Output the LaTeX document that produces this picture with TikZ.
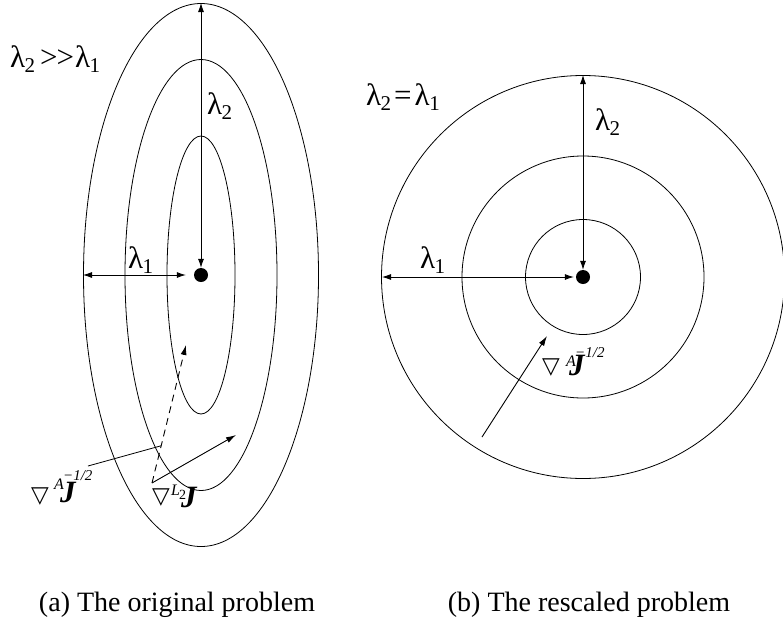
\documentclass[tikz,border=0pt]{standalone}
\usepackage{fontspec}
\setmainfont{Liberation Serif}
\newfontfamily\symf{DejaVu Sans}
\usetikzlibrary{arrows.meta}
\newcommand\fsz[1]{\fontsize{#1}{#1}\selectfont}
\newcommand\lam[1]{λ\kern-0.5pt\raisebox{-5pt}{\fsz{21}#1}}
\newcommand\tri{{\symf\fsz{23}▽}}
\newcommand\bJ{{\fsz{31}\textbf{\textit{J}}}}
\begin{document}
\begin{tikzpicture}[x=1pt,y=-1pt,
  contour/.style={line width=0.8pt},
  dblarrow/.style={line width=0.8pt,{Latex[length=9pt,width=6pt]}-{Latex[length=9pt,width=6pt]}},
  onearrow/.style={line width=0.9pt,-{Latex[length=10pt,width=6pt]}},
  lbl/.style={inner sep=0pt,anchor=base west,font=\fsz{31}},
  captext/.style={inner sep=0pt,anchor=base,font=\fsz{28}},
  dotnode/.style={circle,fill=black,inner sep=0pt,minimum size=14pt}]
\path[use as bounding box] (0,0) rectangle (783,624);
% ---------- left: ellipses ----------
\coordinate (cL) at (201,275);
\draw[contour] (cL) ellipse [x radius=117.5pt, y radius=271.5pt];
\draw[contour] (cL) ellipse [x radius=76pt, y radius=215.5pt];
\draw[contour] (cL) ellipse [x radius=34pt, y radius=139pt];
\node[dotnode] (dotL) at (cL) {};
\coordinate (topL) at (201,3);
\coordinate (leftL) at (83,275);
\draw[dblarrow] (topL) -- (dotL.north);
\draw[dblarrow,shorten >=8pt] (leftL) -- (dotL.west);
\node[lbl] (l2L) at (207,114) {\lam{2}};
\node[lbl] (l1L) at (128,268) {\lam{1}};
\node[lbl] (relL) at (10,67) {\lam{2}\kern5pt>\kern-1pt>\kern1pt\lam{1}};
% gradients
\coordinate (gs) at (152,483);
\coordinate (ge1) at (186,345);
\coordinate (ge2) at (236,435);
\draw[onearrow,dash pattern=on 7pt off 5pt] (gs) -- coordinate[pos=0.27] (hit) (ge1);
\draw[onearrow] (gs) -- (ge2);
\coordinate (ptr) at (88,466);
\draw[line width=0.8pt] (ptr) -- (hit);
\node[inner sep=0pt,anchor=base west] (gA) at (31,502) {%
  \rlap{\tri}\kern23pt\rlap{\raisebox{13pt}{\fsz{16}\textit{A}}}\kern9pt\rlap{\raisebox{22pt}{\fsz{15}\textit{−1/2}}}\kern-3pt\bJ};
\node[inner sep=0pt,anchor=base west] (gL) at (152,503) {%
  \rlap{\tri}\kern19pt\rlap{\raisebox{8pt}{\fsz{16}\textit{L}}}\kern8pt\rlap{\raisebox{4pt}{\fsz{14}2}}\kern2pt\raisebox{-4pt}{\bJ}};
% ---------- right: circles ----------
\coordinate (cR) at (583,277);
\draw[contour] (cR) circle [radius=201.5pt];
\draw[contour] (cR) circle [radius=121pt];
\draw[contour] (cR) circle [radius=57.5pt];
\node[dotnode] (dotR) at (cR) {};
\coordinate (topR) at (583,75);
\coordinate (leftR) at (382,277);
\draw[dblarrow] (topR) -- (dotR.north);
\draw[dblarrow,shorten >=2pt] (leftR) -- (dotR.west);
\node[lbl] (l2R) at (595,130) {\lam{2}};
\node[lbl] (l1R) at (420,268) {\lam{1}};
\node[lbl] (relR) at (366,105) {\lam{2}\kern3pt=\kern3pt\lam{1}};
\coordinate (rs) at (482,437);
\coordinate (re) at (547,336);
\draw[onearrow] (rs) -- (re);
\node[inner sep=0pt,anchor=base west] (gR) at (542,373) {%
  \rlap{\tri}\kern24pt\rlap{\raisebox{7pt}{\fsz{16}\textit{A}}}\kern9pt\rlap{\raisebox{16pt}{\fsz{15}\textit{−1/2}}}\kern-6pt\raisebox{-2pt}{\bJ}};
% ---------- captions ----------
\node[captext] (capA) at (177,611) {(a) The original problem};
\node[captext] (capB) at (589,611) {(b) The rescaled problem};
\end{tikzpicture}
\end{document}
